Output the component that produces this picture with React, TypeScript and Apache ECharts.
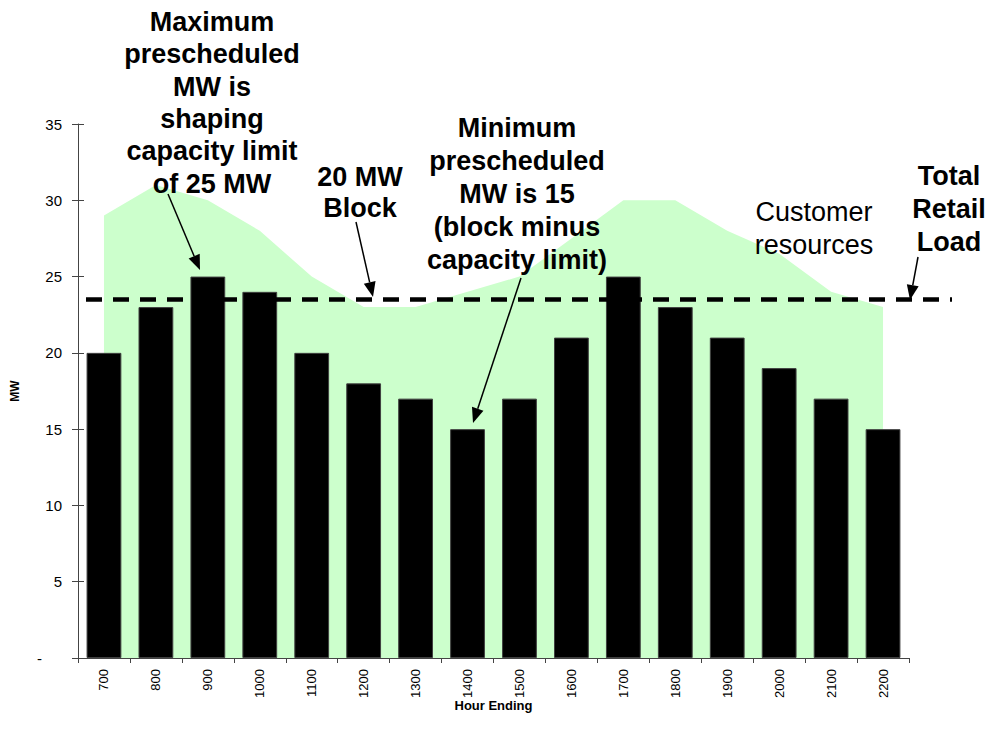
import React, { useEffect, useRef } from "react";
import * as echarts from "echarts";

const hours = ["700", "800", "900", "1000", "1100", "1200", "1300", "1400", "1500", "1600", "1700", "1800", "1900", "2000", "2100", "2200"];
const prescheduledMW = [20, 23, 25, 24, 20, 18, 17, 15, 17, 21, 25, 23, 21, 19, 17, 15];
const customerResources = [29, 31, 30, 28, 25, 23, 23, 24, 25, 27.5, 30, 30, 28, 26.5, 24, 23];
const blockLine = [[0, 23.5], [1, 23.5]];
const yMin = 0;
const yMax = 35;
const yInterval = 5;

const FONT = '"Liberation Sans", Arial, Helvetica, sans-serif';

function arrow(x1: number, y1: number, x2: number, y2: number): any[] {
  const dx = x2 - x1;
  const dy = y2 - y1;
  const len = Math.sqrt(dx * dx + dy * dy);
  const ux = dx / len;
  const uy = dy / len;
  const hl = 15;
  const hw = 6;
  const bx = x2 - ux * hl;
  const by = y2 - uy * hl;
  return [
    {
      type: "line",
      z: 100,
      shape: { x1, y1, x2: bx, y2: by },
      style: { stroke: "#000", lineWidth: 1.5 },
    },
    {
      type: "polygon",
      z: 100,
      shape: {
        points: [
          [x2, y2],
          [bx - uy * hw, by + ux * hw],
          [bx + uy * hw, by - ux * hw],
        ],
      },
      style: { fill: "#000" },
    },
  ];
}

function label(text: string, x: number, y: number, bold: boolean, lineHeight: number, size = 27): any {
  return {
    type: "text",
    z: 100,
    x,
    y,
    style: {
      text,
      fill: "#000",
      font: `${bold ? "bold " : ""}${size}px ${FONT}`,
      textAlign: "center",
      textVerticalAlign: "top",
      align: "center",
      verticalAlign: "top",
      lineHeight,
    },
  };
}

export default function App() {
  const ref = useRef<HTMLDivElement>(null);

  useEffect(() => {
    if (!ref.current) return;
    const chart = echarts.init(ref.current, undefined, { renderer: "svg" });
    const gridPos = { top: 124, bottom: 84, containLabel: false, outerBoundsMode: "none" };
    chart.setOption({
      animation: false,
      backgroundColor: "#fff",
      grid: [
        { left: 78, right: 77, ...gridPos },
        { left: 86, right: 34, ...gridPos },
      ],
      xAxis: [
        {
          type: "category",
          gridIndex: 0,
          data: hours,
          boundaryGap: true,
          name: "Hour Ending",
          nameLocation: "middle",
          nameGap: 41,
          nameMoveOverlap: false,
          nameTextStyle: { fontFamily: FONT, fontWeight: "bold", fontSize: 13, color: "#000" },
          axisLine: { lineStyle: { color: "#444", width: 1 } },
          axisTick: { show: true, alignWithLabel: false, length: 5, lineStyle: { color: "#444" } },
          axisLabel: { rotate: 90, margin: 11, fontFamily: FONT, fontSize: 13, color: "#000" },
          splitLine: { show: false },
        },
        {
          type: "value",
          gridIndex: 1,
          min: 0,
          max: 1,
          show: false,
        },
      ],
      yAxis: [
        {
          type: "value",
          gridIndex: 0,
          position: "left",
          min: yMin,
          max: yMax,
          interval: yInterval,
          name: "MW",
          nameLocation: "middle",
          nameGap: 57,
          nameRotate: 90,
          nameMoveOverlap: false,
          nameTextStyle: { fontFamily: FONT, fontWeight: "bold", fontSize: 12, color: "#000" },
          axisLine: { show: true, lineStyle: { color: "#444", width: 1 } },
          axisTick: { show: true, length: 6, lineStyle: { color: "#444" } },
          axisLabel: {
            margin: 16,
            fontFamily: FONT,
            fontSize: 15,
            color: "#000",
            formatter: (v: number) => (v === 0 ? "{dash|-}" : String(v)),
            rich: { dash: { fontFamily: FONT, fontSize: 15, color: "#000", padding: [0, 20, 0, 0] } },
          },
          splitLine: { show: false },
        },
        {
          type: "value",
          gridIndex: 0,
          position: "left",
          min: yMin,
          max: yMax,
          interval: yInterval,
          axisLine: { show: false },
          axisTick: { show: true, inside: true, length: 6, lineStyle: { color: "#444" } },
          axisLabel: { show: false },
          splitLine: { show: false },
        },
        {
          type: "value",
          gridIndex: 1,
          min: yMin,
          max: yMax,
          show: false,
        },
      ],
      series: [
        {
          name: "Customer resources",
          type: "line",
          xAxisIndex: 0,
          yAxisIndex: 0,
          data: customerResources,
          symbol: "none",
          lineStyle: { width: 0, color: "#CCFFCC" },
          areaStyle: { color: "#CCFFCC", opacity: 1 },
          itemStyle: { color: "#CCFFCC" },
          z: 1,
        },
        {
          name: "Prescheduled MW",
          type: "bar",
          xAxisIndex: 0,
          yAxisIndex: 0,
          data: prescheduledMW,
          barCategoryGap: "33%",
          itemStyle: { color: "#000", borderColor: "#404040", borderWidth: 1 },
          z: 2,
        },
        {
          name: "Block",
          type: "line",
          xAxisIndex: 1,
          yAxisIndex: 2,
          data: blockLine,
          symbol: "none",
          lineStyle: { color: "#000", width: 4.5, type: [16, 11], cap: "butt" },
          z: 3,
        },
      ],
      graphic: [
        label("Maximum\nprescheduled\nMW is\nshaping\ncapacity limit\nof 25 MW", 212, 6, true, 32.3),
        label("20 MW\nBlock", 360, 161, true, 31.5),
        label("Minimum\nprescheduled\nMW is 15\n(block minus\ncapacity limit)", 517, 111, true, 33),
        label("Customer\nresources", 814, 195, false, 33),
        label("Total\nRetail\nLoad", 949, 159, true, 33),
        ...arrow(168, 194, 200, 270),
        ...arrow(356, 222, 373, 297),
        ...arrow(521, 278, 473, 423),
        ...arrow(918, 257, 910, 300),
      ],
    });
    return () => chart.dispose();
  }, []);

  return (
    <div
      ref={ref}
      style={{ position: "absolute", left: 0, top: 0, width: 986, height: 742 }}
    />
  );
}
